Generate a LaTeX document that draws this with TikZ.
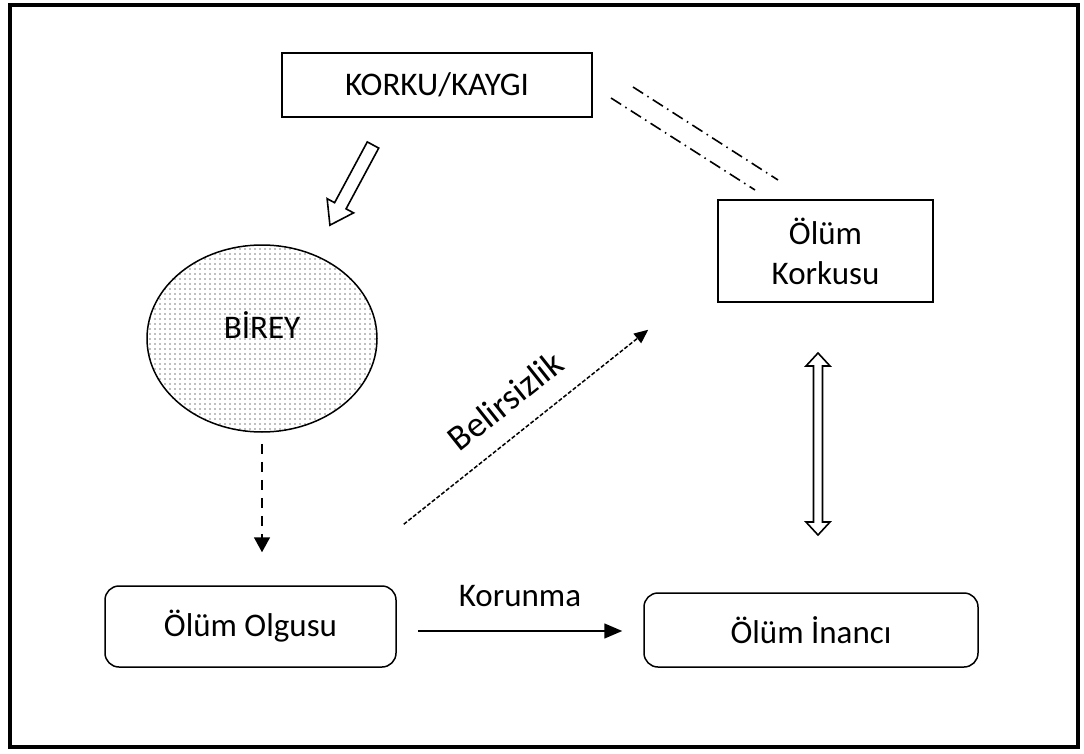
\documentclass[tikz,border=0pt]{standalone}
\usepackage{fontspec}
\setmainfont{Carlito}
\usetikzlibrary{shapes.geometric,arrows.meta,patterns.meta,calc}
\begin{document}
\begin{tikzpicture}[x=1pt,y=1pt,
  every node/.style={font=\fontsize{33}{40}\selectfont},
  box/.style={draw, line width=1.5pt, inner sep=0pt},
  rbox/.style={box, rounded corners=14pt},
  hollow/.style={draw, line width=1.6pt, line join=miter, fill=white},
  dashdot/.style={line width=1.6pt, dash pattern=on 12pt off 5pt on 1.5pt off 5pt},
  dasharrow/.style={line width=1.6pt, dash pattern=on 10pt off 8pt, -{Triangle[length=15pt,width=16pt]}},
  finearrow/.style={line width=1.5pt, dash pattern=on 4pt off 2pt, -{Triangle[length=14pt,width=12pt]}},
  solidarrow/.style={line width=1.5pt, -{Triangle[length=18pt,width=15pt]}}
]
\useasboundingbox (0,0) rectangle (1084,-754);
% frame
\draw[line width=4pt] (9.5,-5.5) rectangle (1078,-747);

% nodes
\node[box, minimum width=310pt, minimum height=64pt] (korku) at (437,-85) {KORKU/KAYGI};
\node[box, minimum width=215pt, minimum height=102pt, align=center] (korkusu) at (825.5,-251) {Ölüm\\Korkusu};
\node[draw, ellipse, line width=1.5pt, minimum width=230pt, minimum height=187pt,
      pattern={Dots[distance=5pt, radius=0.8pt]}, pattern color=black!50] (birey) at (262,-338.5) {};
\node (bireytext) at ([yshift=13]birey.center) {BİREY};
\node[rbox, minimum width=291pt, minimum height=81pt] (olgusu) at (250.5,-626.5) {Ölüm Olgusu};
\node[rbox, minimum width=334pt, minimum height=74pt] (inanc) at (811,-630) {Ölüm İnancı};

% hollow arrow KORKU -> BIREY
\coordinate (ha) at (373,-145);
\begin{scope}[shift={(ha)}, rotate=-118.26]
  \draw[hollow] (0,6.5) -- (69,6.5) -- (69,15) -- (91,0) -- (69,-15) -- (69,-6.5) -- (0,-6.5) -- cycle;
\end{scope}

% dash-dot lines KORKU -- Olum Korkusu
\coordinate (dd1a) at (633,-87);
\coordinate (dd1b) at (778,-180);
\coordinate (dd2a) at (611,-98);
\coordinate (dd2b) at (755,-190);
\draw[dashdot] (dd1a) -- (dd1b);
\draw[dashdot] (dd2a) -- (dd2b);

% dashed arrow BIREY -> Olum Olgusu
\draw[dasharrow] ([yshift=-11]birey.south) -- ([yshift=33]birey.south |- olgusu.north);

% Belirsizlik arrow
\draw[finearrow] ([xshift=7,yshift=61]olgusu.north east) -- ([xshift=-69,yshift=-27]korkusu.south west)
  node[midway, sloped, above=20pt, inner sep=0pt, font=\fontsize{36}{40}\selectfont] (bel) {Belirsizlik};

% double hollow arrow Korkusu <-> Inanc
\coordinate (da) at (818,-353);
\begin{scope}[shift={(da)}]
  \draw[hollow] (0,0) -- (12,-13) -- (4.5,-13) -- (4.5,-169) -- (12,-169) -- (0,-182) -- (-12,-169) -- (-4.5,-169) -- (-4.5,-13) -- (-12,-13) -- cycle;
\end{scope}

% Korunma arrow
\coordinate (ka) at ([xshift=21,yshift=-4.5]olgusu.east);
\coordinate (kb) at ([xshift=-21]inanc.west);
\draw[solidarrow] (ka) -- (ka -| kb) node[midway, above=20pt] (korunma) {Korunma};
\end{tikzpicture}
\end{document}
